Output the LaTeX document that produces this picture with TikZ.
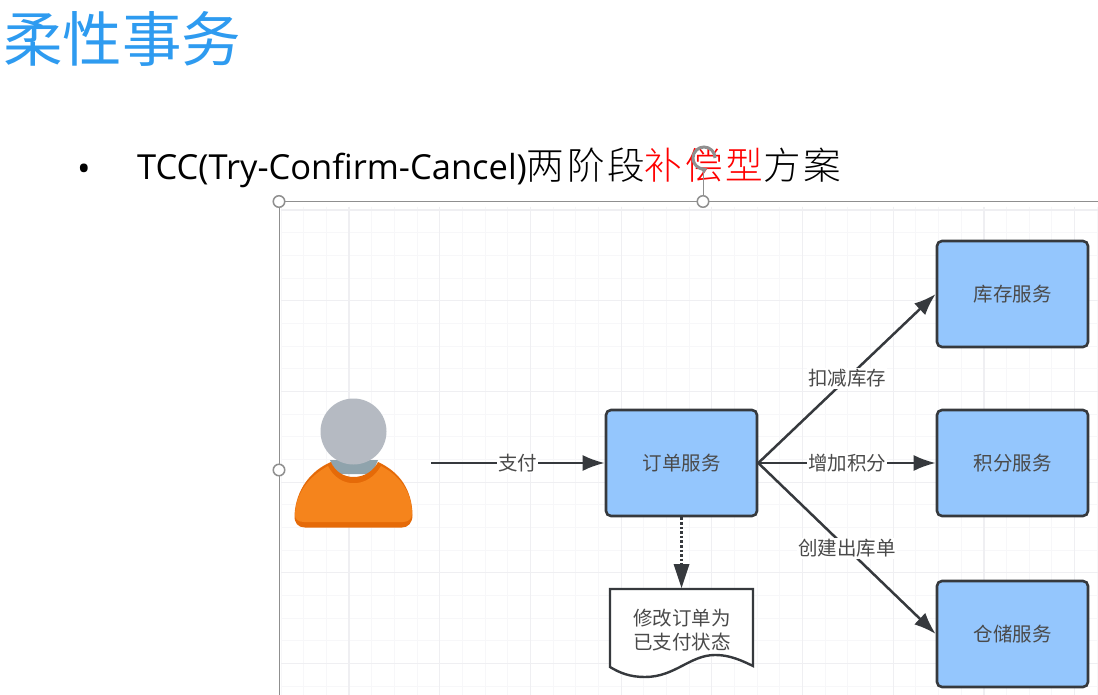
\documentclass[tikz,border=0pt]{standalone}
\usepackage{fontspec}
\setmainfont{Open Sans}
\newfontfamily\cjk{Noto Sans CJK SC}
\newfontfamily\cjklight[LetterSpace=7]{Noto Sans CJK SC Light}
\usetikzlibrary{arrows.meta,calc}
\definecolor{titleblue}{HTML}{2E9BF0}
\definecolor{boxblue}{HTML}{94C6FD}
\definecolor{boxline}{HTML}{36393D}
\definecolor{gridminor}{HTML}{F7F7F9}
\definecolor{gridmajor}{HTML}{EFEFF2}
\definecolor{labeltext}{HTML}{4A4A4A}
\definecolor{frameline}{HTML}{8F8F8F}
\definecolor{shirt}{HTML}{F5841C}
\definecolor{shirtdark}{HTML}{E56A08}
\definecolor{headgrey}{HTML}{B5BAC2}
\definecolor{neckgrey}{HTML}{8FA3AC}
\tikzset{
  x=1pt,y=-1pt,
  svc/.style={draw=boxline,fill=boxblue,line width=2.6pt,rounded corners=5pt,minimum width=151pt,minimum height=106pt,inner sep=0pt,text=labeltext,font=\cjk\fontsize{19.5}{22}\selectfont},
  conn/.style={draw=boxline,line width=2.5pt,-{Latex[length=22pt,width=16pt]}},
  lbl/.style={fill=white,inner sep=1pt,text=labeltext,font=\cjk\fontsize{19.5}{22}\selectfont},
  handle/.style={circle,draw=frameline,fill=white,line width=1.5pt,minimum size=11.5pt,inner sep=0pt},
}
\begin{document}
\begin{tikzpicture}
\useasboundingbox (0,0) rectangle (1098,695);
\fill[white] (0,0) rectangle (1098,695);
% grid
\foreach \i in {0,...,36}{\draw[gridminor,line width=1pt] ({281+\i*22.67},207) -- ({281+\i*22.67},695);}
\foreach \j in {0,...,21}{\draw[gridminor,line width=1pt] (281,{210+\j*22.67}) -- (1098,{210+\j*22.67});}
\foreach \i in {0,...,8}{\draw[gridmajor,line width=1.2pt] ({349+\i*90.7},207) -- ({349+\i*90.7},695);}
\foreach \j in {0,...,5}{\draw[gridmajor,line width=1.2pt] (281,{210+\j*90.7}) -- (1098,{210+\j*90.7});}
% frame
\draw[frameline,line width=1pt] (1098,201.5) -- (279,201.5) -- (279,695);
% title
\node[anchor=west,inner sep=0pt,text=titleblue,font=\cjk\fontsize{59.5}{60}\selectfont] (title) at (3,39) {柔性事务};
\node[anchor=center,inner sep=0pt,font=\fontsize{36}{36}\selectfont] (dot) at (84,173) {•};
\node[anchor=west,inner sep=0pt,font=\fontsize{34.5}{38}\selectfont] (sub) at (137,168)
 {TCC(Try-Confirm-Cancel)\cjklight\fontsize{37.6}{38}\selectfont 两阶段\textcolor{red}{补偿型}方案};
% handles
\draw[frameline,line width=1pt] (703,201.5) -- (703,170);
\node[handle] (h1) at (279,201.5) {};
\node[handle] (h2) at (703,201.5) {};
\node[handle] (h3) at (279,470) {};
\draw[frameline,line width=3pt,-{Latex[length=6pt,width=8pt]}] (715,158) arc[start angle=0,end angle=290,radius=11pt];
% person
\fill[neckgrey] (330,460) -- (378,460) -- (372,474) -- (336,474) -- cycle;
\fill[shirtdark] (331,462) .. controls (339,482) and (368,482) .. (378,462)
  .. controls (400,472) and (412,490) .. (412.5,515)
  .. controls (412.5,523) and (408,527.5) .. (402,527.5)
  -- (305,527.5) .. controls (298,527.5) and (294,523) .. (294.5,515)
  .. controls (296,490) and (310,471) .. cycle;
\fill[shirt] (328,466) .. controls (339,489) and (368,489) .. (381,466)
  .. controls (400,476) and (412,492) .. (412,514)
  .. controls (412,519) and (408,522) .. (403,522)
  -- (304,522) .. controls (298,522) and (294.5,519) .. (295,514)
  .. controls (296,492) and (310,476) .. cycle;
\fill[headgrey] (353.5,431.5) circle[radius=33];
% boxes
\node[svc] (order) at (681.5,463) {订单服务};
\node[svc] (stock) at (1012.5,294) {库存服务};
\node[svc] (points) at (1012.5,463) {积分服务};
\node[svc] (ware) at (1012.5,634) {仓储服务};
% document
\draw[boxline,line width=2.4pt,fill=white] (610,589) -- (753,589) -- (753,666)
  .. controls (735,657) and (725,655) .. (715,655)
  .. controls (690,655) and (675,677) .. (645,677)
  .. controls (630,677) and (620,673) .. (610,667) -- cycle;
\node[inner sep=0pt,align=center,text=labeltext,font=\cjk\fontsize{19.5}{24}\selectfont] (doc) at (682,630) {修改订单为\\已支付状态};
\coordinate (docTop) at (681.5,588);
\coordinate (dotEnd) at (681.5,566);
% connectors
\coordinate (user) at (431,463);
\draw[conn] (user) -- (order.west) node[lbl,midway] {支付};
\draw[conn] (order.east) -- (stock.west) node[lbl,pos=0.5] {扣减库存};
\draw[conn] (order.east) -- (points.west) node[lbl,pos=0.5] {增加积分};
\draw[conn] (order.east) -- (ware.west) node[lbl,pos=0.5] {创建出库单};
\draw[boxline,dotted,line width=2.6pt] (order.south) -- (dotEnd);
\fill[boxline] (673.5,564) -- (689.5,564) -- (docTop) -- cycle;
\end{tikzpicture}
\end{document}
